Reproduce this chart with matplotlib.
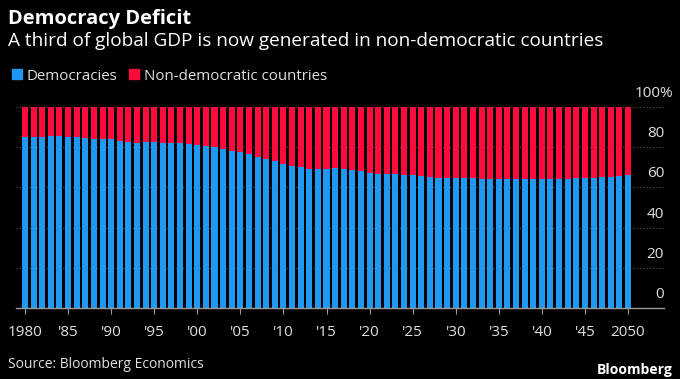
import matplotlib
matplotlib.use("Agg")
import matplotlib.pyplot as plt
import matplotlib.transforms as mtransforms
from matplotlib.patches import Rectangle

# share of global GDP (%)
years = list(range(1980, 2051))
democracies = [
    85.2, 85.2, 85.2, 85.7, 85.7, 85.2, 85.2, 84.7, 84.2, 84.2,  # 1980s
    84.1, 83.2, 82.8, 82.3, 82.8, 82.8, 82.3, 82.3, 82.1, 81.6,  # 1990s
    81.1, 80.4, 79.9, 79.0, 78.1, 77.6, 76.5, 75.1, 74.0, 73.0,  # 2000s
    71.8, 70.6, 70.0, 69.2, 69.0, 69.0, 69.7, 69.2, 68.7, 68.0,  # 2010s
    67.0, 66.5, 66.5, 66.5, 66.3, 66.0, 65.5, 65.3, 64.8, 64.7,  # 2020s
    64.5, 64.5, 64.5, 64.2, 64.2, 64.2, 64.2, 64.0, 64.0, 64.0,  # 2030s
    64.2, 64.2, 64.3, 64.3, 64.5, 64.7, 64.8, 65.2, 65.3, 65.8,  # 2040s
    66.3,
]
non_democratic = [100 - d for d in democracies]

xtick_years = list(range(1980, 2051, 5))
xtick_labels = ["1980", "'85", "'90", "'95", "'00", "'05", "'10", "'15",
                "'20", "'25", "'30", "'35", "'40", "'45", "2050"]
ytick_vals = [0, 20, 40, 60, 80]
ytick_labels = ["0", "20", "40", "60", "80"]
top_label = "100%"

BLUE = "#1f98f2"
RED = "#ff0a3c"
BG = "#000000"
TXT = "#e0e0e0"
GRID = "#5a5a5a"
AXIS = "#9a9a9a"
FONT = ["Open Sans", "DejaVu Sans"]

W, H = 680, 379
fig = plt.figure(figsize=(W / 100, H / 100), dpi=100, facecolor=BG)


def fx(px):
    return px / W


def fy(py):
    return 1 - py / H


# axes box in pixels: left 16, right 664, top 107 (100%), bottom 308 (0%)
ax = fig.add_axes([fx(16), fy(308), fx(664) - fx(16), fy(107) - fy(308)])
ax.set_facecolor(BG)
px_per_year = (628 - 25) / 70
ax.set_xlim(1980 - 9 / px_per_year, 2050 + 36 / px_per_year)
ax.set_ylim(0, 100)

for v in ytick_vals[1:] + [100]:
    ax.axhline(v, color=GRID, lw=0.8, ls=(0, (1, 2)), zorder=1)

bw = 0.7
ax.bar(years, democracies, width=bw, color=BLUE, zorder=2)
ax.bar(years, non_democratic, width=bw, bottom=democracies, color=RED, zorder=2)

for s in ["top", "right", "left"]:
    ax.spines[s].set_visible(False)
ax.spines["bottom"].set_color(AXIS)
ax.spines["bottom"].set_linewidth(1.0)
ax.spines["bottom"].set_zorder(3)

ax.set_yticks([])
ax.set_xticks(xtick_years)
ax.set_xticklabels([])
ax.tick_params(axis="x", length=4, color=AXIS)

# x labels placed on a fixed baseline
xlab_tr = mtransforms.blended_transform_factory(ax.transData, fig.transFigure)
for yr, lab in zip(xtick_years, xtick_labels):
    ax.text(yr, fy(336), lab, transform=xlab_tr, ha="center", va="baseline",
            family=FONT, fontsize=11, color=TXT, clip_on=False)

# right-hand value labels sit above their gridlines
for v, lab in zip(ytick_vals, ytick_labels):
    ax.text(1.0, v + 5, lab, transform=ax.get_yaxis_transform(),
            ha="right", va="baseline", family=FONT, fontsize=11, color=TXT,
            clip_on=False)
ylab_tr = mtransforms.blended_transform_factory(fig.transFigure, ax.transData)
ax.text(fx(673), 105, top_label, transform=ylab_tr, ha="right", va="baseline",
        family=FONT, fontsize=11, color=TXT, clip_on=False)

fig.text(fx(8), fy(24), "Democracy Deficit", family=FONT, fontsize=14.5,
         fontweight="bold", color="white", va="baseline")
fig.text(fx(8), fy(46.5), "A third of global GDP is now generated in non-democratic countries",
         family=FONT, fontsize=13.7, color="white", va="baseline")

# legend
for sx, tx, col, lab in [(12, 27, BLUE, "Democracies"),
                         (129, 144, RED, "Non-democratic countries")]:
    fig.add_artist(Rectangle((fx(sx), fy(79)), fx(9.5), fy(69) - fy(79),
                             transform=fig.transFigure, color=col))
    fig.text(fx(tx), fy(80), lab, family=FONT, fontsize=10.8, color=TXT, va="baseline")

fig.text(fx(8), fy(368), "Source: Bloomberg Economics", family=FONT, fontsize=10,
         color=TXT, va="baseline")
fig.text(fx(673), fy(374), "Bloomberg", family=FONT, fontsize=10, fontweight="bold",
         color="white", va="baseline", ha="right")

fig.savefig("out.png", dpi=100, facecolor=BG)
